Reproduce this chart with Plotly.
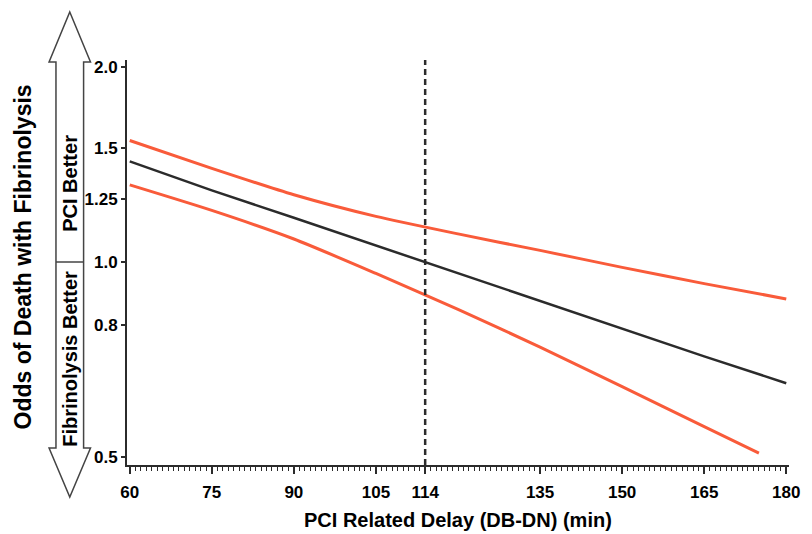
import math
import plotly.graph_objects as go

# ---- data ----
delay = [60, 75, 90, 105, 114, 120, 135, 150, 165, 180]
odds = [1.43, 1.29, 1.17, 1.06, 1.00, 0.96, 0.87, 0.79, 0.715, 0.65]
upper_delay = [60, 75, 90, 105, 120, 135, 150, 165, 180]
upper_ci = [1.54, 1.395, 1.27, 1.176, 1.105, 1.042, 0.981, 0.926, 0.877]
lower_delay = [60, 75, 90, 105, 120, 135, 150, 165, 175]
lower_ci = [1.315, 1.201, 1.085, 0.960, 0.845, 0.739, 0.642, 0.557, 0.507]

x_ticks = [60, 75, 90, 105, 114, 135, 150, 165, 180]
y_ticks = [0.5, 0.8, 1.0, 1.25, 1.5, 2.0]
y_tick_text = ["0.5", "0.8", "1.0", "1.25", "1.5", "2.0"]
ref_delay = 114
ref_odds = 1.0

W, H = 812, 534
ML, MR, MT, MB = 127, 14, 60, 69
PW, PH = W - ML - MR, H - MT - MB

FONT = "Liberation Sans, Arial, Helvetica, sans-serif"
ORANGE = "#f95b3a"
DARK = "#2b2b2b"


def px(x, y):
    return (x - ML) / PW, (H - MB - y) / PH


fig = go.Figure()
fig.add_trace(go.Scatter(x=upper_delay, y=upper_ci, mode="lines",
                         line=dict(color=ORANGE, width=3, shape="spline", smoothing=0.6),
                         hoverinfo="skip"))
fig.add_trace(go.Scatter(x=lower_delay, y=lower_ci, mode="lines",
                         line=dict(color=ORANGE, width=3, shape="spline", smoothing=0.6),
                         hoverinfo="skip"))
fig.add_trace(go.Scatter(x=delay, y=odds, mode="lines",
                         line=dict(color=DARK, width=2.5), hoverinfo="skip"))

shapes = []
# reference line at OR = 1.0 (log axis -> log10 coordinate)
shapes.append(dict(type="line", xref="paper", yref="y", x0=0, x1=1,
                   y0=math.log10(ref_odds), y1=math.log10(ref_odds),
                   line=dict(color=DARK, width=2.5), layer="above"))
# dashed vertical line at 114 min
shapes.append(dict(type="line", xref="x", yref="paper", x0=ref_delay, x1=ref_delay,
                   y0=0, y1=1, line=dict(color=DARK, width=2.5, dash="6px,4px"),
                   layer="above"))

# double arrow outline at the left
pts = [(69, 12), (90, 62), (83, 62), (83, 448), (90, 448), (69, 497),
       (48, 448), (55, 448), (55, 62), (48, 62)]
path = "M " + " L ".join("{:.5f},{:.5f}".format(*px(a, b)) for a, b in pts) + " Z"
shapes.append(dict(type="path", xref="paper", yref="paper", path=path,
                   line=dict(color="#444444", width=1.5), fillcolor="rgba(0,0,0,0)"))
sx0, sy = px(55, 262)
sx1, _ = px(83, 262)
shapes.append(dict(type="line", xref="paper", yref="paper", x0=sx0, x1=sx1,
                   y0=sy, y1=sy, line=dict(color="#444444", width=1.5)))

annotations = []
ax_, ay_ = px(22, 257)
annotations.append(dict(text="Odds of Death with Fibrinolysis", xref="paper", yref="paper",
                        x=ax_, y=ay_, textangle=-90, showarrow=False,
                        xanchor="center", yanchor="middle",
                        font=dict(family=FONT, size=23, color="black", weight="bold")))
bx, by = px(69, 183)
annotations.append(dict(text="PCI Better", xref="paper", yref="paper", x=bx, y=by,
                        textangle=-90, showarrow=False, xanchor="center", yanchor="middle",
                        font=dict(family=FONT, size=20, color="black", weight="bold")))
fx, fy = px(69, 359)
annotations.append(dict(text="Fibrinolysis Better", xref="paper", yref="paper", x=fx, y=fy,
                        textangle=-90, showarrow=False, xanchor="center", yanchor="middle",
                        font=dict(family=FONT, size=20, color="black", weight="bold")))
tx, ty = px(463, 520)
annotations.append(dict(text="PCI Related Delay (DB-DN) (min)", xref="paper", yref="paper",
                        x=tx, y=ty, showarrow=False, xanchor="center", yanchor="middle",
                        font=dict(family=FONT, size=20, color="black", weight="bold")))

fig.update_layout(
    width=W, height=H,
    margin=dict(l=ML, r=MR, t=MT, b=MB, pad=0),
    paper_bgcolor="white", plot_bgcolor="white",
    showlegend=False,
    shapes=shapes, annotations=annotations,
    xaxis=dict(range=[59.5, 180.5], tickmode="array", tickvals=x_ticks,
               ticks="outside", ticklen=7, tickwidth=1.5, tickcolor=DARK,
               showline=True, linecolor=DARK, linewidth=2, showgrid=False,
               zeroline=False, ticklabelstandoff=4,
               tickfont=dict(family=FONT, size=17, color="black", weight="bold"),
               minor=dict(tick0=60, dtick=1, ticks="outside", ticklen=4,
                          tickwidth=1, tickcolor=DARK, showgrid=False)),
    yaxis=dict(type="log", range=[math.log10(0.486), math.log10(2.05)],
               tickmode="array", tickvals=y_ticks, ticktext=y_tick_text,
               ticks="outside", ticklen=4, tickwidth=1.5, tickcolor=DARK,
               showline=True, linecolor=DARK, linewidth=2, showgrid=False,
               zeroline=False,
               tickfont=dict(family=FONT, size=17, color="black", weight="bold")),
)

fig.write_html(
    "out.html",
    config={"displayModeBar": False},
    post_script="document.body.style.margin='0';document.body.style.overflow='hidden';",
)
